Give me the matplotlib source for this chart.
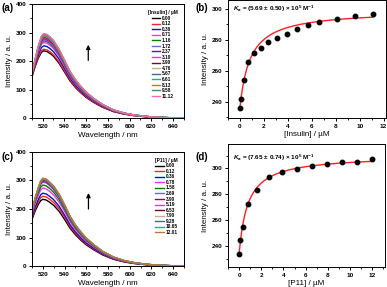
import numpy as np
import matplotlib
matplotlib.use("Agg")
import matplotlib.pyplot as plt
from matplotlib.ticker import MultipleLocator

plt.rcParams['font.family'] = ['Liberation Sans', 'DejaVu Sans']
plt.rcParams['font.weight'] = 'bold'
plt.rcParams['mathtext.fontset'] = 'custom'
plt.rcParams['mathtext.rm'] = 'Liberation Sans:bold'
plt.rcParams['mathtext.it'] = 'Liberation Sans:italic:bold'
plt.rcParams['mathtext.bf'] = 'Liberation Sans:bold'

# ---- data ----
conc_insulin = [0.00, 0.12, 0.36, 0.71, 1.16, 1.72, 2.37, 3.10, 3.90, 4.76, 5.67, 6.61, 8.13, 9.58, 11.12]
peak_insulin = [236.1, 241.7, 253.7, 265.5, 271.5, 274.7, 278.8, 280.9, 283.9, 287.1, 289.3, 291.4, 293.6, 295.5, 296.4]
conc_p11 = [0.00, 0.12, 0.36, 0.78, 1.58, 2.69, 3.90, 5.19, 6.53, 7.90, 9.28, 10.65, 12.01]
peak_p11 = [233.4, 244.2, 254.8, 272.7, 283.3, 293.6, 297.1, 299.5, 301.9, 303.7, 305.0, 305.3, 307.4]

# normalised spectral shapes (lowest / highest curve)
wl_a = [510, 513, 516, 519, 521, 524, 527, 530, 535, 540, 545, 550, 555, 560, 567, 575, 585, 595, 603, 612, 621, 630, 640, 650]
low_a = [0.60, 0.76, 0.89, 0.98, 1.0, 0.99, 0.96, 0.92, 0.82, 0.69, 0.56, 0.46, 0.38, 0.31, 0.235, 0.165, 0.10, 0.062, 0.042, 0.027, 0.016, 0.010, 0.006, 0.003]
high_a = [0.52, 0.69, 0.85, 0.97, 1.0, 0.99, 0.96, 0.92, 0.82, 0.69, 0.56, 0.46, 0.38, 0.31, 0.235, 0.165, 0.10, 0.062, 0.042, 0.027, 0.016, 0.010, 0.006, 0.003]
wl_c = [510, 513, 516, 518, 520, 523, 526, 530, 535, 540, 545, 550, 555, 560, 567, 575, 585, 595, 603, 612, 621, 630, 640, 650]
low_c = [0.70, 0.83, 0.93, 0.98, 1.0, 0.99, 0.96, 0.91, 0.82, 0.70, 0.57, 0.47, 0.39, 0.32, 0.245, 0.17, 0.105, 0.065, 0.044, 0.028, 0.017, 0.011, 0.006, 0.003]
high_c = [0.63, 0.78, 0.90, 0.97, 1.0, 0.99, 0.96, 0.91, 0.82, 0.70, 0.57, 0.47, 0.39, 0.32, 0.245, 0.17, 0.105, 0.065, 0.044, 0.028, 0.017, 0.011, 0.006, 0.003]

# fit parameters (hyperbolic binding curve)
fit_b = (236.5, 62.6, 0.87)
fit_d = (233.5, 76.7, 0.78)

colors = ['black', '#ff2020', '#1010c0', '#ff30ff', '#008000', '#6a6ac8', '#8a008a', '#c050c0',
          '#800030', '#b8b880', '#3f6f8f', '#3aa090', '#c07830', '#2e9a6a', '#ff66aa']

fig = plt.figure(figsize=(3.87, 2.87), dpi=100)
W, H = 387.0, 287.0


def add_ax(l, t, r, b):
    return fig.add_axes([l / W, 1 - b / H, (r - l) / W, (b - t) / H])


def style(ax):
    ax.tick_params(which='major', direction='out', length=2.5, width=0.7, labelsize=4.6, pad=1.5)
    ax.tick_params(which='minor', direction='out', length=1.4, width=0.6)
    for s in ax.spines.values():
        s.set_linewidth(0.7)


def spectra(ax, wl, low, high, peaks, conc, title, arrow_x, arrow_y):
    wl = np.array(wl)
    low = np.array(low)
    high = np.array(high)
    pmin, pmax = min(peaks), max(peaks)
    for i, (p, c) in enumerate(zip(peaks, conc)):
        f = (p - pmin) / (pmax - pmin)
        ax.plot(wl, p * (low + (high - low) * f), color=colors[i], lw=1.0,
                label='%.2f' % c)
    ax.set_xlim(510, 650)
    ax.set_ylim(0, 400)
    ax.xaxis.set_major_locator(MultipleLocator(20))
    ax.xaxis.set_minor_locator(MultipleLocator(10))
    ax.yaxis.set_major_locator(MultipleLocator(100))
    ax.yaxis.set_minor_locator(MultipleLocator(50))
    ax.set_xlabel('Wavelength / nm', fontsize=5.8, labelpad=2)
    ax.set_ylabel('Intensity / a. u.', fontsize=5.8, labelpad=2)
    leg = ax.legend(title=title, fontsize=3.4, title_fontsize=3.4, frameon=False,
                    loc='upper right', bbox_to_anchor=(1.0, 1.0), handlelength=1.8,
                    handletextpad=0.4, labelspacing=0.12, borderaxespad=0.9)
    for line in leg.get_lines():
        line.set_linewidth(1.0)
    ax.annotate('', xy=(arrow_x, arrow_y[1]), xytext=(arrow_x, arrow_y[0]),
                arrowprops=dict(arrowstyle='-|>', color='black', lw=0.9,
                                mutation_scale=6))
    style(ax)


def titration(ax, conc, peaks, fit, label, label_y, xlabel, xlim, ylim):
    i0, a, kd = fit
    xs = np.linspace(0, conc[-1], 200)
    ax.plot(xs, i0 + a * xs / (kd + xs), color='#ff2020', lw=1.0)
    ax.plot(conc, peaks, 'o', color='black', ms=3.2)
    ax.set_xlim(*xlim)
    ax.set_ylim(*ylim)
    ax.xaxis.set_major_locator(MultipleLocator(2))
    ax.xaxis.set_minor_locator(MultipleLocator(1))
    ax.yaxis.set_major_locator(MultipleLocator(20))
    ax.yaxis.set_minor_locator(MultipleLocator(10))
    ax.set_xlabel(xlabel, fontsize=5.8, labelpad=2)
    ax.set_ylabel('Intensity / a. u.', fontsize=5.8, labelpad=2)
    ax.text(0.03, label_y, label, transform=ax.transAxes, fontsize=4.6, va='center')
    style(ax)


ka_b = '$K_a$ = (5.69 \u00b1 0.50) \u00d7 10$^5$ M$^{-1}$'
ka_d = '$K_a$ = (7.65 \u00b1 0.74) \u00d7 10$^5$ M$^{-1}$'

ax_a = add_ax(31.7, 4, 184, 118.3)
spectra(ax_a, wl_a, low_a, high_a, peak_insulin, conc_insulin, '[Insulin] / \u00b5M', 562, (193, 267))

ax_b = add_ax(228, 0.5, 386, 118)
titration(ax_b, conc_insulin, peak_insulin, fit_b, ka_b, 0.93,
          '[Insulin] / \u00b5M', (-1, 12.2), (229.5, 305.3))

ax_c = add_ax(32, 151.5, 184, 266.3)
spectra(ax_c, wl_c, low_c, high_c, peak_p11, conc_p11, '[P11] / \u00b5M', 562, (190, 265))

ax_d = add_ax(228, 144, 385, 267)
titration(ax_d, conc_p11, peak_p11, fit_d, ka_d, 0.89,
          '[P11] / \u00b5M', (-1, 13.15), (223.5, 319))

for lab, x, y in [('(a)', 1, 8), ('(b)', 195, 8), ('(c)', 1, 157), ('(d)', 195, 157)]:
    fig.text(x / W, 1 - y / H, lab, fontsize=7, fontweight='bold', va='center', ha='left')

fig.savefig('out.png', dpi=100)
